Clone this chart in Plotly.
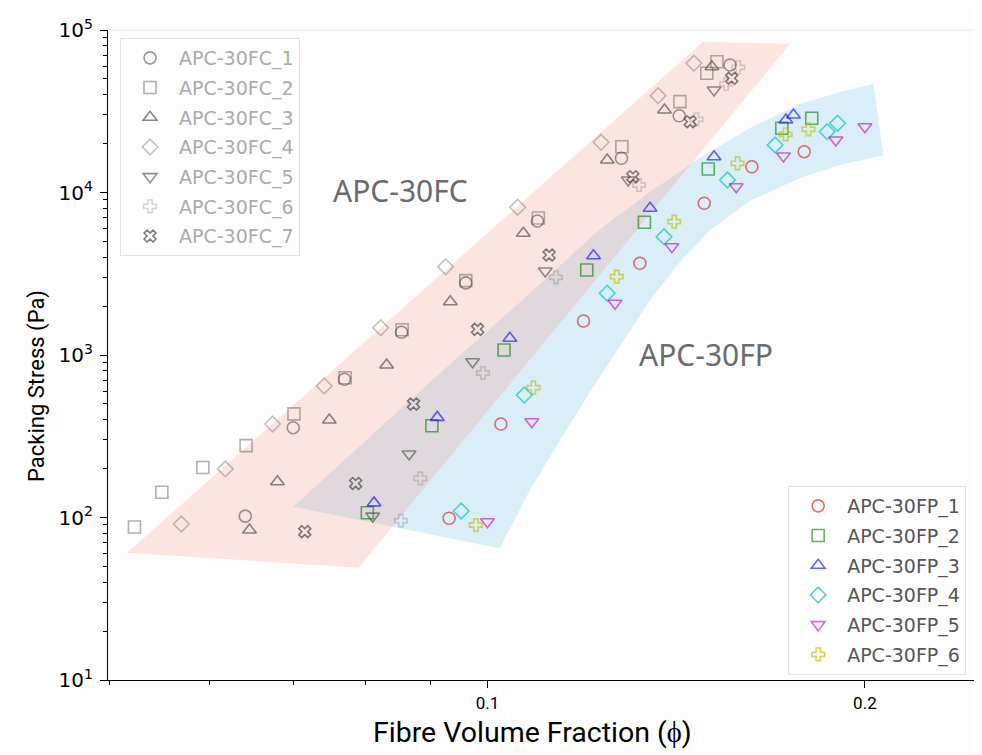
import math
import plotly.graph_objects as go

# ---------------- data ----------------
fc_names = ["APC-30FC_1", "APC-30FC_2", "APC-30FC_3", "APC-30FC_4",
            "APC-30FC_5", "APC-30FC_6", "APC-30FC_7"]

fc1_x = [0.0641, 0.0700, 0.0769, 0.0854, 0.0961, 0.1096, 0.1279, 0.1422, 0.1561]
fc1_y = [102, 357, 709, 1380, 2780, 6677, 16235, 29690, 60900]

fc2_x = [0.0523, 0.0550, 0.0593, 0.0642, 0.0701, 0.0770, 0.0855, 0.0961, 0.1098, 0.1280, 0.1424, 0.1496, 0.1524]
fc2_y = [87.4, 143, 203, 277, 434, 725, 1430, 2870, 6967, 19130, 36220, 54150, 63820]

fc3_x = [0.0646, 0.0680, 0.0748, 0.0831, 0.0934, 0.1068, 0.1246, 0.1384, 0.1510]
fc3_y = [83.8, 166, 398, 868, 2128, 5610, 15850, 32190, 59440]

fc4_x = [0.0570, 0.0618, 0.0674, 0.0741, 0.0822, 0.0926, 0.1057, 0.1232, 0.1368, 0.1461]
fc4_y = [91.2, 199, 376, 645, 1472, 3494, 8108, 20370, 39430, 62400]

fc5_x = [0.0810, 0.0866, 0.0973, 0.1112, 0.1295, 0.1516]
fc5_y = [102, 246, 909, 3288, 11940, 42740]

fc6_x = [0.0853, 0.0884, 0.0992, 0.1134, 0.1321, 0.1468, 0.1550, 0.1585]
fc6_y = [95.6, 174, 775, 3008, 11120, 28210, 46530, 58940]

fc7_x = [0.0715, 0.0785, 0.0873, 0.0982, 0.1120, 0.1306, 0.1451, 0.1566]
fc7_y = [81.8, 162, 499, 1439, 4125, 12510, 27270, 50440]

fp_names = ["APC-30FP_1", "APC-30FP_2", "APC-30FP_3", "APC-30FP_4",
            "APC-30FP_5", "APC-30FP_6"]

fp1_x = [0.0932, 0.1025, 0.1193, 0.1323, 0.1489, 0.1625, 0.1789]
fp1_y = [98.9, 376, 1619, 3667, 8581, 14410, 17830]

fp2_x = [0.0802, 0.0903, 0.1031, 0.1200, 0.1334, 0.1500, 0.1717, 0.1814]
fp2_y = [107, 367, 1074, 3335, 6555, 13950, 24840, 28620]

fp3_x = [0.0812, 0.0912, 0.1042, 0.1215, 0.1348, 0.1516, 0.1730, 0.1754]
fp3_y = [123, 413, 1267, 4084, 7995, 16610, 27940, 29990]

fp4_x = [0.0953, 0.1070, 0.1246, 0.1383, 0.1554, 0.1696, 0.1866, 0.1902]
fp4_y = [109.6, 567, 2397, 5346, 11940, 19600, 23670, 26660]

fp5_x = [0.1000, 0.1085, 0.1264, 0.1403, 0.1579, 0.1722, 0.1896, 0.2000]
fp5_y = [94.2, 388, 2081, 4640, 10860, 16780, 21040, 25400]

fp6_x = [0.0979, 0.1088, 0.1268, 0.1409, 0.1583, 0.1729, 0.1803]
fp6_y = [89.9, 629, 3033, 6611, 15120, 22810, 24490]

# shaded envelopes (data units)
fc_band_x = [0.0516, 0.0789, 0.1743, 0.1486]
fc_band_y = [60.7, 49.1, 82000, 84730]

fp_band_upper_x = [0.0700, 0.0900, 0.1062, 0.1230, 0.1348, 0.1477, 0.1619, 0.1775, 0.1911, 0.2031]
fp_band_upper_y = [116.6, 682, 2120, 5963, 10070, 16310, 24940, 35050, 41540, 46530]
fp_band_lower_x = [0.2069, 0.1911, 0.1775, 0.1619, 0.1505, 0.1424, 0.1348, 0.1276, 0.1207, 0.1143, 0.1081, 0.1023]
fp_band_lower_y = [17010, 14760, 12280, 8866, 5878, 3735, 2180, 1136, 592, 300, 147.6, 64.6]

# x / y tick labels
x_tick_vals = [0.1, 0.2]
x_tick_text = ["0.1", "0.2"]
x_minor_vals = [0.05, 0.06, 0.07, 0.08, 0.09]
y_tick_vals = [10, 100, 1000, 10000, 100000]
y_tick_text = ["10<sup>1</sup>", "10<sup>2</sup>", "10<sup>3</sup>", "10<sup>4</sup>", "10<sup>5</sup>"]
y_minor_vals = [m * 10 ** e for e in range(1, 5) for m in range(2, 10)]

# text labels (x, y in data units)
label_fc = ("APC-30FC", 0.0852, 10360)
label_fp = ("APC-30FP", 0.1494, 1014)
x_title = "Fibre Volume Fraction (\u03d5)"
y_title = "Packing Stress (Pa)"

# ---------------- styling ----------------
fc_sets = [(fc1_x, fc1_y), (fc2_x, fc2_y), (fc3_x, fc3_y), (fc4_x, fc4_y),
           (fc5_x, fc5_y), (fc6_x, fc6_y), (fc7_x, fc7_y)]
fc_symbols = ["circle-open", "square-open", "triangle-up-open", "diamond-open",
              "triangle-down-open", "cross-open", "x-open"]
fc_sizes = [12, 12, 12, 12, 12, 10.5, 10.5]
fc_alpha = [0.55, 0.42, 0.65, 0.32, 0.6, 0.22, 0.7]

fp_sets = [(fp1_x, fp1_y), (fp2_x, fp2_y), (fp3_x, fp3_y), (fp4_x, fp4_y),
           (fp5_x, fp5_y), (fp6_x, fp6_y)]
fp_symbols = ["circle-open", "square-open", "triangle-up-open", "diamond-open",
              "triangle-down-open", "cross-open"]
fp_sizes = [12, 12, 12, 12, 12, 10.5]
fp_colors = ["rgba(220,40,40,0.68)", "rgba(0,128,0,0.6)", "rgba(0,0,255,0.6)",
             "rgba(0,191,191,0.65)", "rgba(191,0,191,0.6)", "rgba(191,191,0,0.65)"]

fig = go.Figure()

# FP envelope (blue)
fig.add_trace(go.Scatter(
    x=fp_band_upper_x + fp_band_lower_x + fp_band_upper_x[:1],
    y=fp_band_upper_y + fp_band_lower_y + fp_band_upper_y[:1],
    mode="lines", fill="toself", fillcolor="rgba(135,206,235,0.3)",
    line=dict(width=0), hoverinfo="skip", showlegend=False))

# FC envelope (salmon)
fig.add_trace(go.Scatter(
    x=fc_band_x + fc_band_x[:1], y=fc_band_y + fc_band_y[:1],
    mode="lines", fill="toself", fillcolor="rgba(250,128,114,0.2)",
    line=dict(width=0), hoverinfo="skip", showlegend=False))

for i, ((xs, ys), name) in enumerate(zip(fc_sets, fc_names)):
    col = f"rgba(70,70,70,{fc_alpha[i]})"
    fig.add_trace(go.Scatter(
        x=xs, y=ys, mode="markers", name=name, legend="legend",
        legendgroup=name,
        marker=dict(symbol=fc_symbols[i], size=fc_sizes[i], color=col,
                    line=dict(width=1.6, color=col))))

for i, ((xs, ys), name) in enumerate(zip(fp_sets, fp_names)):
    col = fp_colors[i]
    fig.add_trace(go.Scatter(
        x=xs, y=ys, mode="markers", name=name, legend="legend2",
        legendgroup=name,
        marker=dict(symbol=fp_symbols[i], size=fp_sizes[i], color=col,
                    line=dict(width=1.6, color=col))))

for text, lx, ly in (label_fc, label_fp):
    fig.add_annotation(x=math.log10(lx), y=math.log10(ly), text=text,
                       showarrow=False, xref="x", yref="y",
                       font=dict(family="Noto Sans", size=30, color="#6b6b6b"))

axis_font = "Roboto"
# axis titles placed as annotations (paper coordinates of the plot area)
fig.add_annotation(x=0.487, y=-0.0815, xref="paper", yref="paper", text=x_title,
                   showarrow=False, xanchor="center", yanchor="middle",
                   font=dict(family=axis_font, size=28.5, color="black"))
fig.add_annotation(x=-0.0815, y=0.4523, xref="paper", yref="paper", text=y_title,
                   showarrow=False, xanchor="center", yanchor="middle", textangle=-90,
                   font=dict(family=axis_font, size=22, color="black"))

# faint top frame line
fig.add_shape(type="line", xref="paper", yref="paper", x0=0, x1=1, y0=1, y1=1,
              line=dict(color="#e6e6e6", width=1))

fig.update_layout(
    width=982, height=755,
    margin=dict(l=100, r=10, t=22, b=83),
    paper_bgcolor="#fdfdfd", plot_bgcolor="#fdfdfd",
    xaxis=dict(type="log", range=[-1.3026, -0.6072], automargin=False,
               tickmode="array", tickvals=x_tick_vals, ticktext=x_tick_text,
               ticks="outside", ticklen=7, tickwidth=1.2, tickcolor="black",
               showgrid=False, zeroline=False, showline=True, linecolor="black",
               linewidth=1.3,
               tickfont=dict(family=axis_font, size=17, color="black"),
               minor=dict(tickmode="array", tickvals=x_minor_vals, ticks="outside",
                          ticklen=4, tickwidth=1, tickcolor="black", showgrid=False)),
    yaxis=dict(type="log", range=[1, 5], automargin=False,
               tickmode="array", tickvals=y_tick_vals, ticktext=y_tick_text,
               ticks="outside", ticklen=7, tickwidth=1.2, tickcolor="black",
               showgrid=False, zeroline=False, showline=True, linecolor="black",
               linewidth=1.3, ticklabelstandoff=3,
               tickfont=dict(family="DejaVu Sans", size=20, color="black"),
               minor=dict(tickmode="array", tickvals=y_minor_vals, ticks="outside",
                          ticklen=4, tickwidth=1, tickcolor="black", showgrid=False)),
    legend=dict(x=0.0138, y=0.9877, xanchor="left", yanchor="top",
                bgcolor="rgba(253,253,253,0.85)", bordercolor="#e2e2e2", borderwidth=1,
                font=dict(family="DejaVu Sans", size=19, color="#ababab"),
                tracegroupgap=2, traceorder="grouped", itemwidth=48),
    legend2=dict(x=0.78, y=0.2985, xanchor="left", yanchor="top",
                 bgcolor="rgba(253,253,253,0.85)", bordercolor="#e2e2e2", borderwidth=1,
                 font=dict(family="DejaVu Sans", size=19, color="#555555"),
                 tracegroupgap=2, traceorder="grouped", itemwidth=48),
    showlegend=True,
)

fig.write_html("out.html")
